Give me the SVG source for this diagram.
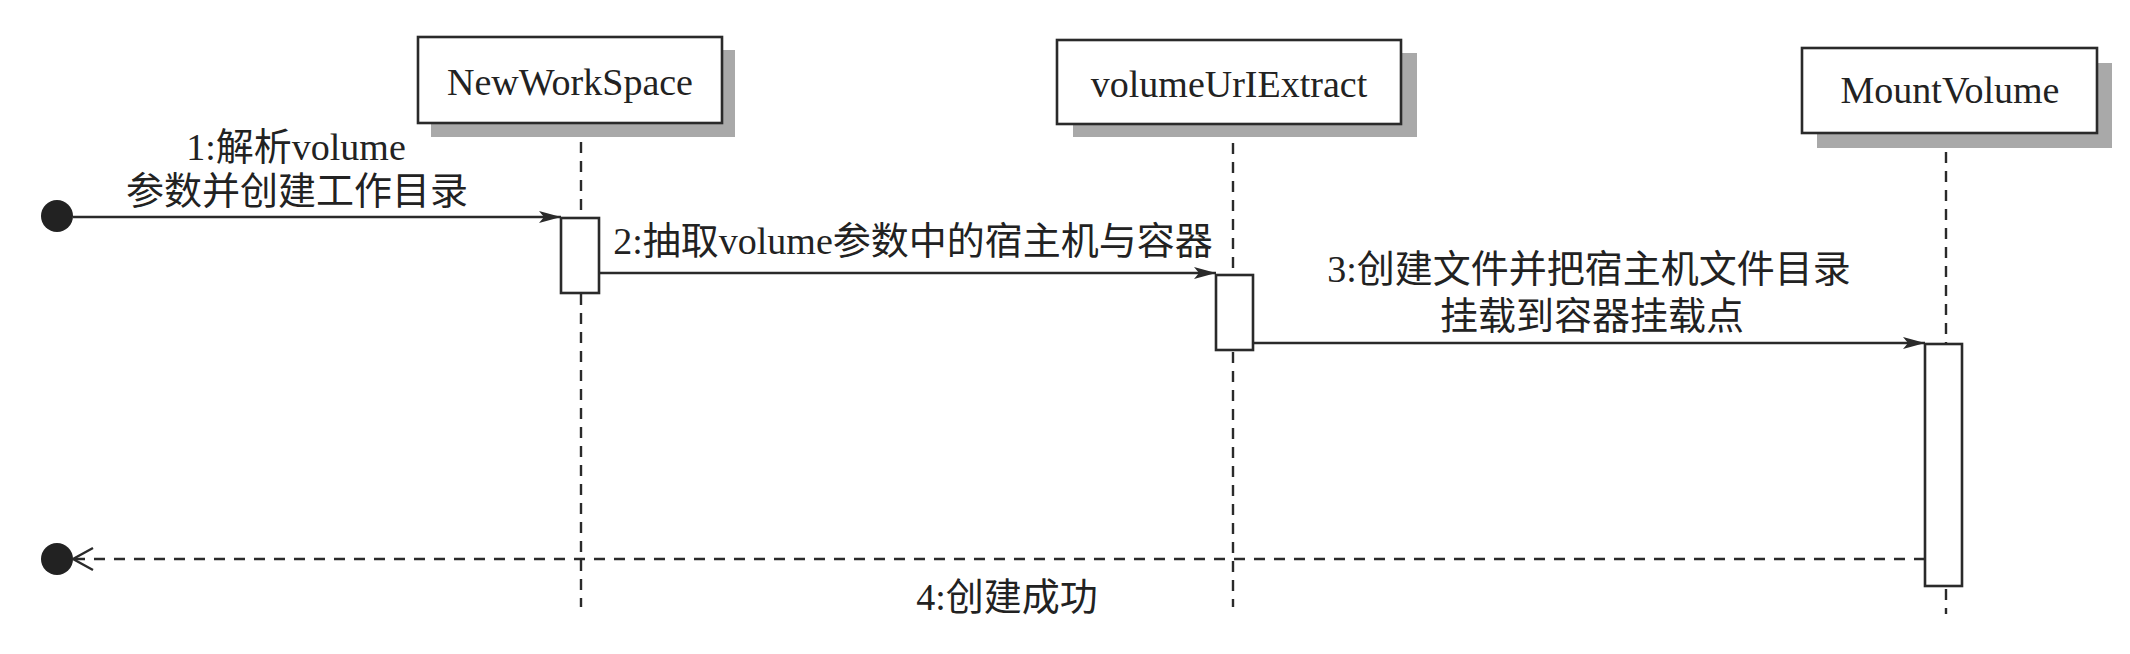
<svg xmlns="http://www.w3.org/2000/svg" width="2130" height="654" viewBox="0 0 2130 654">
<style>
.box{fill:#fff;stroke:#2a2a2a;stroke-width:2.6}
.shadow{fill:#a9a9a9}
.bar{fill:#fff;stroke:#2a2a2a;stroke-width:2.6}
.life{stroke:#2a2a2a;stroke-width:2.4;stroke-dasharray:11 8;fill:none}
.msg{stroke:#2a2a2a;stroke-width:2.4;fill:none}
.ret{stroke:#2a2a2a;stroke-width:2.4;fill:none;stroke-dasharray:11 9}
.name{font-family:"Liberation Serif","Noto Sans CJK SC",serif;font-size:38px;fill:#222;text-anchor:middle}
.lbl{font-family:"Liberation Serif","Noto Sans CJK SC",serif;font-size:38px;fill:#222;text-anchor:middle}
.dot{fill:#222}
</style>
<defs>
<marker id="fill" markerUnits="userSpaceOnUse" markerWidth="24" markerHeight="14" refX="22" refY="7" orient="auto">
<path d="M0,1 L22,7 L0,13 L5,7 Z" fill="#2a2a2a"/>
</marker>
<marker id="open" markerUnits="userSpaceOnUse" markerWidth="24" markerHeight="26" refX="22" refY="13" orient="auto">
<path d="M2,2 L22,13 L2,24" fill="none" stroke="#2a2a2a" stroke-width="2.4"/>
</marker>
</defs>
<rect width="2130" height="654" fill="#fff"/>
<g id="lifelines">
<line class="life" x1="581" y1="123" x2="581" y2="607"/>
<line class="life" x1="1233" y1="124" x2="1233" y2="607"/>
<line class="life" x1="1946" y1="133" x2="1946" y2="614"/>
</g>
<g id="NewWorkSpace">
<rect class="shadow" x="431" y="50" width="304" height="87"/>
<rect class="box" x="418" y="37" width="304" height="86"/>
<text class="name" x="570" y="95">NewWorkSpace</text>
<rect class="bar" x="561" y="218" width="38" height="75"/>
</g>
<g id="volumeUrlExtract">
<rect class="shadow" x="1073" y="53" width="344" height="84"/>
<rect class="box" x="1057" y="40" width="344" height="84"/>
<text class="name" x="1229" y="97">volumeUrIExtract</text>
<rect class="bar" x="1216" y="275" width="37" height="75"/>
</g>
<g id="MountVolume">
<rect class="shadow" x="1817" y="63" width="295" height="85"/>
<rect class="box" x="1802" y="48" width="295" height="85"/>
<text class="name" x="1950" y="103">MountVolume</text>
<rect class="bar" x="1925" y="344" width="37" height="242"/>
</g>
<g id="start"><circle class="dot" cx="57" cy="216" r="16"/></g>
<g id="end"><circle class="dot" cx="57" cy="559" r="16"/></g>
<g id="connectors">
<path class="msg" d="M73,217 L561,217" marker-end="url(#fill)"/>
<path class="msg" d="M599,273 L1216,273" marker-end="url(#fill)"/>
<path class="msg" d="M1253,343 L1925,343" marker-end="url(#fill)"/>
<path class="ret" d="M1925,559 L73,559" marker-end="url(#open)"/>
</g>
<g id="labels">
<text class="lbl" x="296" y="160">1:解析volume</text>
<text class="lbl" x="297" y="204">参数并创建工作目录</text>
<text class="lbl" x="913" y="254">2:抽取volume参数中的宿主机与容器</text>
<text class="lbl" x="1589" y="282">3:创建文件并把宿主机文件目录</text>
<text class="lbl" x="1592" y="329">挂载到容器挂载点</text>
<text class="lbl" x="1007" y="610">4:创建成功</text>
</g>
</svg>
